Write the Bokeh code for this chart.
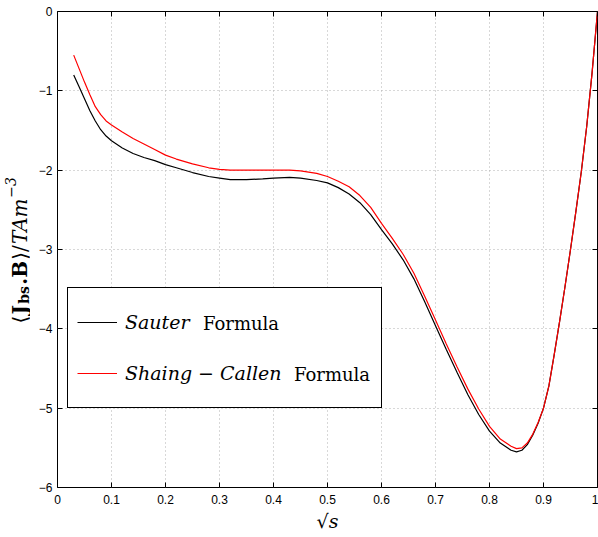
from math import pi
from bokeh.plotting import figure
from bokeh.layouts import row
from bokeh.models import (Range1d, LinearAxis, FixedTicker, Legend, LegendItem,
                          CustomJSTickFormatter)
from bokeh.core.properties import value
from bokeh.embed import file_html
from bokeh.resources import INLINE

# ---- data ----
sqrt_s = [0.03, 0.04, 0.05, 0.06, 0.07, 0.08, 0.09, 0.10, 0.12, 0.14, 0.16, 0.18,
          0.20, 0.22, 0.25, 0.28, 0.30, 0.32, 0.35, 0.38, 0.40, 0.43, 0.45, 0.48,
          0.50, 0.52, 0.54, 0.56, 0.58, 0.60, 0.62, 0.64, 0.66, 0.68, 0.70, 0.72,
          0.74, 0.76, 0.78, 0.80, 0.82, 0.84, 0.85, 0.86, 0.87, 0.88, 0.89, 0.90,
          0.91, 0.92, 0.93, 0.94, 0.95, 0.96, 0.97, 0.98, 0.99, 1.00]

sauter = [-0.80, -0.95, -1.10, -1.25, -1.38, -1.49, -1.57, -1.63, -1.72, -1.79, -1.84, -1.88,
          -1.93, -1.97, -2.03, -2.08, -2.10, -2.12, -2.12, -2.11, -2.10, -2.09, -2.10, -2.13,
          -2.16, -2.22, -2.30, -2.41, -2.56, -2.75, -2.93, -3.13, -3.37, -3.66, -3.96, -4.26,
          -4.55, -4.83, -5.08, -5.29, -5.44, -5.53, -5.55, -5.53, -5.46, -5.34, -5.19, -5.00,
          -4.72, -4.32, -3.90, -3.46, -3.00, -2.52, -2.02, -1.45, -0.77, 0.00]

shaing_callen = [-0.55, -0.72, -0.89, -1.05, -1.20, -1.30, -1.38, -1.43, -1.52, -1.60, -1.67, -1.74,
                 -1.81, -1.86, -1.92, -1.97, -1.99, -2.00, -2.00, -2.00, -2.00, -2.00, -2.01, -2.04,
                 -2.08, -2.14, -2.21, -2.32, -2.47, -2.67, -2.86, -3.06, -3.30, -3.59, -3.89, -4.19,
                 -4.48, -4.76, -5.01, -5.23, -5.39, -5.48, -5.51, -5.50, -5.44, -5.33, -5.18, -5.00,
                 -4.72, -4.32, -3.90, -3.46, -3.00, -2.52, -2.02, -1.45, -0.77, 0.00]

x_ticks = [0.0, 0.1, 0.2, 0.3, 0.4, 0.5, 0.6, 0.7, 0.8, 0.9, 1.0]
x_tick_labels = ["0", "0.1", "0.2", "0.3", "0.4", "0.5", "0.6", "0.7", "0.8", "0.9", "1"]
y_ticks = [-6, -5, -4, -3, -2, -1, 0]
y_tick_labels = ["\u22126", "\u22125", "\u22124", "\u22123", "\u22122", "\u22121", "0"]

series_names = ["Sauter", "Shaing \u2212 Callen"]
series_suffix = "Formula"

# y-axis label pieces: (text, font style, size px)
ylabel_pieces = [("\u27E8", "normal", 20), ("J", "bold", 20), ("bs", "bold", 14),
                 (".B", "bold", 20), ("\u27E9/", "normal", 20), ("TAm", "italic", 20),
                 ("\u22123", "italic", 14)]

TICK_FONT = "Liberation Sans"
SERIF = "DejaVu Serif"
W_LEFT = 30
H = 537

# ---------- left strip carrying the rotated y label ----------
pl = figure(width=W_LEFT, height=H, output_backend="svg", toolbar_location=None,
            x_range=Range1d(0, W_LEFT), y_range=Range1d(H, 0),
            min_border=0, min_border_left=0, min_border_right=0,
            min_border_top=0, min_border_bottom=0,
            x_axis_type=None, y_axis_type=None, outline_line_color=None,
            background_fill_color="white", border_fill_color="white")
pl.grid.visible = False

# offsets along the text (px from the label's lower end) and baseline shifts (px)
piece_offsets = [0.0, 10.2, 22.2, 43.8, 71.8, 89.6, 142.0]
piece_shifts = [0, 0, 4, 0, 0, 0, -9]
start_py = 352.0
base_px = 19.0
for (txt, style, size), off, sh in zip(ylabel_pieces, piece_offsets, piece_shifts):
    pl.text(x=[base_px + sh], y=[start_py - off], text=[txt], angle=pi / 2,
            text_font=value(SERIF), text_font_style=style, text_font_size=f"{size}px",
            text_align="left", text_baseline="alphabetic", text_color="black")

# ---------- main plot ----------
p = figure(width=598 - W_LEFT, height=H, output_backend="svg", toolbar_location=None,
           x_range=Range1d(0, 1), y_range=Range1d(-6, 0),
           min_border_left=57 - W_LEFT, min_border_right=1, min_border_top=11,
           min_border_bottom=50,
           background_fill_color="white", border_fill_color="white")

p.outline_line_color = "black"
p.outline_line_width = 1
p.outline_line_alpha = 1

for ax in (p.xaxis[0], p.yaxis[0]):
    ax.axis_line_color = None
    ax.major_tick_in = 5
    ax.major_tick_out = 0
    ax.minor_tick_in = 0
    ax.minor_tick_out = 0
    ax.major_tick_line_color = "black"
    ax.major_label_text_font = TICK_FONT
    ax.major_label_text_font_size = "12px"
    ax.major_label_text_color = "black"

p.xaxis[0].ticker = FixedTicker(ticks=x_ticks)
p.xaxis[0].major_label_overrides = {t: l for t, l in zip(x_ticks, x_tick_labels)}
p.xaxis[0].major_label_standoff = 7
p.xaxis[0].axis_label = "\u221As"
p.xaxis[0].axis_label_text_font = SERIF
p.xaxis[0].axis_label_text_font_style = "italic"
p.xaxis[0].axis_label_text_font_size = "19px"
p.xaxis[0].axis_label_text_color = "black"
p.xaxis[0].axis_label_standoff = 3

p.yaxis[0].ticker = FixedTicker(ticks=y_ticks)
p.yaxis[0].major_label_overrides = {t: l for t, l in zip(y_ticks, y_tick_labels)}
p.yaxis[0].major_label_standoff = 5

# box ticks on top / right (no labels)
blank = CustomJSTickFormatter(code="return ''")
top_ax = LinearAxis(ticker=FixedTicker(ticks=x_ticks), formatter=blank,
                    major_label_standoff=0, major_tick_in=5, major_tick_out=0,
                    minor_tick_in=0, minor_tick_out=0, axis_line_color=None,
                    major_tick_line_color="black")
right_ax = LinearAxis(ticker=FixedTicker(ticks=y_ticks), formatter=blank,
                      major_label_standoff=0, major_tick_in=5, major_tick_out=0,
                      minor_tick_in=0, minor_tick_out=0, axis_line_color=None,
                      major_tick_line_color="black")
p.add_layout(top_ax, "above")
p.add_layout(right_ax, "right")

for g in (p.xgrid[0], p.ygrid[0]):
    g.grid_line_color = "#b0b0b0"
    g.grid_line_dash = "1 3"
    g.grid_line_width = 1

r1 = p.line(sqrt_s, sauter, line_color="black", line_width=1.2)
r2 = p.line(sqrt_s, shaing_callen, line_color="red", line_width=1.2)

legend = Legend(items=[LegendItem(label=series_names[0], renderers=[r1]),
                       LegendItem(label=series_names[1], renderers=[r2])],
                location=(10, 79), margin=0, padding=9, spacing=1,
                label_height=50, glyph_height=50, glyph_width=40,
                label_standoff=8, label_width=247,
                label_text_font=SERIF, label_text_font_style="italic",
                label_text_font_size="19px", label_text_color="black",
                border_line_color="black", border_line_width=1, border_line_alpha=1,
                background_fill_color="white", background_fill_alpha=1)
p.add_layout(legend)

# upright "Formula" after each italic name: label-only legends drawn on top
suffix_locs = [(146, 139), (237, 88)]
for r, loc in zip([r1, r2], suffix_locs):
    lg = Legend(items=[LegendItem(label=series_suffix, renderers=[r])],
                location=loc, margin=0, padding=0, spacing=0,
                label_height=50, glyph_height=50, glyph_width=0,
                label_standoff=0, label_width=10,
                label_text_font=SERIF, label_text_font_style="normal",
                label_text_font_size="18px", label_text_color="black",
                border_line_color=None, background_fill_alpha=0)
    p.add_layout(lg)

layout = row(pl, p, spacing=0)
open("out.html", "w").write(file_html(layout, INLINE))
